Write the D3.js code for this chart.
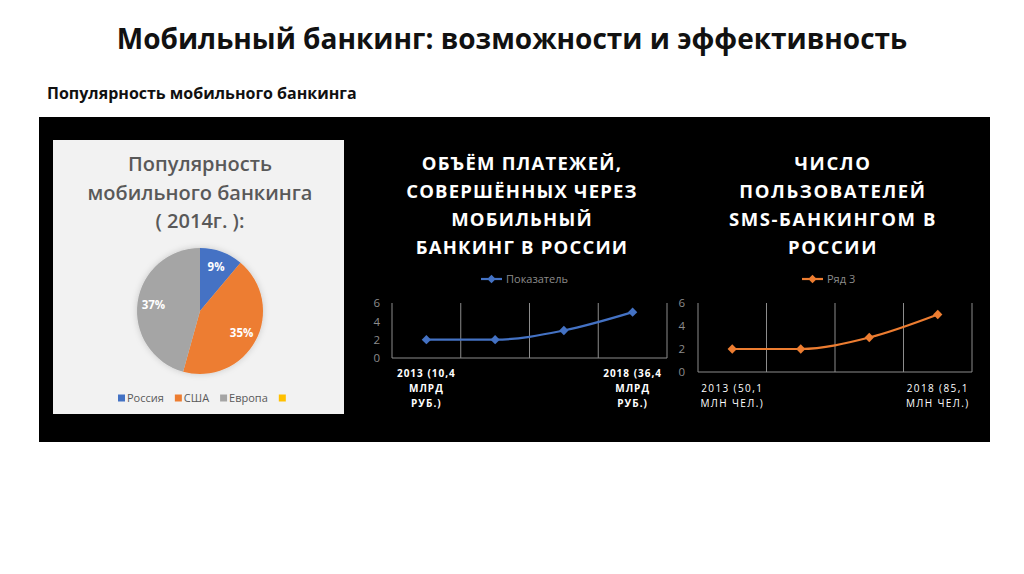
<!DOCTYPE html>
<html>
<head>
<meta charset="utf-8">
<script src="https://cdn.jsdelivr.net/npm/d3@7"></script>
<style>
  body { margin: 0; background: #fff; }
  svg { display: block; }
</style>
</head>
<body>
<div id="chart"></div>
<script>
// Pie: popularity of mobile banking (2014)
const pieCategories = ["Россия", "США", "Европа", ""];
const pieValues = [9, 35, 37, 0];
const pieColors = ["#4472c4", "#ed7d31", "#a5a5a5", "#ffc000"];

// Line 1: payments volume
const paymentsValues = [2, 2, 3, 5];
const paymentsLabels = [["2013 (10,4", "МЛРД", "РУБ.)"], [], [], ["2018  (36,4", "МЛРД", "РУБ.)"]];

// Line 2: SMS-banking users
const smsValues = [2, 2, 3, 5];
const smsLabels = [["2013 (50,1", "МЛН ЧЕЛ.)"], [], [], ["2018 (85,1", "МЛН ЧЕЛ.)"]];

const yTicks = [0, 2, 4, 6];

const font = "'Open Sans', 'Noto Sans', sans-serif";
const W = 1024, H = 574;

const svg = d3.select("#chart").append("svg")
  .attr("width", W)
  .attr("height", H)
  .style("font-family", font);

// Slide title
svg.append("text")
  .attr("x", 512).attr("y", 49)
  .attr("text-anchor", "middle")
  .attr("font-size", 28).attr("font-weight", 700)
  .attr("fill", "#111")
  .text("Мобильный банкинг: возможности и эффективность");

svg.append("text")
  .attr("x", 47).attr("y", 99)
  .attr("font-size", 16).attr("font-weight", 700)
  .attr("fill", "#111")
  .text("Популярность мобильного банкинга");

// Black panel
svg.append("rect")
  .attr("x", 39).attr("y", 117)
  .attr("width", 951).attr("height", 325)
  .attr("fill", "#000");

// ---- Pie panel ----
svg.append("rect")
  .attr("x", 53).attr("y", 140)
  .attr("width", 291).attr("height", 274)
  .attr("fill", "#f2f2f2");

const pieTitle = ["Популярность", "мобильного банкинга", "( 2014г. ):"];
svg.append("g").selectAll("text")
  .data(pieTitle)
  .join("text")
  .attr("x", 200)
  .attr("y", (d, i) => [171, 200, 228][i])
  .attr("text-anchor", "middle")
  .attr("font-size", 20).attr("font-weight", 600)
  .attr("fill", "#595959")
  .text(d => d);

const defs = svg.append("defs");
const shadow = defs.append("filter").attr("id", "pieShadow")
  .attr("x", "-30%").attr("y", "-30%").attr("width", "160%").attr("height", "160%");
shadow.append("feDropShadow")
  .attr("dx", 0).attr("dy", 0).attr("stdDeviation", 3)
  .attr("flood-color", "#000").attr("flood-opacity", 0.18);

const pie = d3.pie().sort(null).value(d => d);
const arcs = pie(pieValues);
const radius = 63;
const arc = d3.arc().innerRadius(0).outerRadius(radius);
const labelArc = d3.arc().innerRadius(47).outerRadius(47);

const pieG = svg.append("g").attr("transform", "translate(200,311)");
pieG.append("g").attr("filter", "url(#pieShadow)")
  .selectAll("path")
  .data(arcs)
  .join("path")
  .attr("d", arc)
  .attr("fill", (d, i) => pieColors[i]);

pieG.selectAll("text.lbl")
  .data(arcs.filter(d => d.value > 0))
  .join("text")
  .attr("class", "lbl")
  .attr("transform", d => `translate(${labelArc.centroid(d)})`)
  .attr("text-anchor", "middle")
  .attr("dy", "0.35em")
  .attr("font-size", 11.5).attr("font-weight", 700)
  .attr("fill", "#fff")
  .text(d => d.value + "%");

// Pie legend
const legG = svg.append("g");
let lx = 0;
const items = legG.selectAll("g")
  .data(pieCategories)
  .join("g");
items.append("rect")
  .attr("y", -3.5).attr("width", 7).attr("height", 7)
  .attr("fill", (d, i) => pieColors[i]);
items.append("text")
  .attr("x", 9).attr("dy", "0.35em")
  .attr("font-size", 11)
  .attr("fill", "#595959")
  .text(d => d);
items.each(function () {
  const g = d3.select(this);
  g.attr("transform", `translate(${lx},0)`);
  const tw = g.select("text").node().getComputedTextLength();
  lx += 9 + tw + (tw > 0 ? 11 : 0);
});
legG.attr("transform", "translate(118,398)");

// ---- Line charts ----
function lineChart(o) {
  const g = svg.append("g");

  g.selectAll("text.title")
    .data(o.title)
    .join("text")
    .attr("class", "title")
    .attr("x", o.titleX)
    .attr("y", (d, i) => 170 + i * 28)
    .attr("text-anchor", "middle")
    .attr("font-size", 18.5).attr("font-weight", 700)
    .attr("letter-spacing", o.titleSpacing)
    .attr("fill", "#fff")
    .text(d => d);

  const x = d3.scaleBand()
    .domain(d3.range(o.values.length))
    .range([o.x0, o.x1]);
  const y = d3.scaleLinear().domain([0, 6]).range([o.y0, o.y1]);

  // vertical gridlines at category edges
  const edges = x.domain().map(d => x(d)).concat([o.x1]);
  g.selectAll("line.grid")
    .data(edges)
    .join("line")
    .attr("class", "grid")
    .attr("x1", d => d).attr("x2", d => d)
    .attr("y1", y(6)).attr("y2", y(0))
    .attr("stroke", "#8c8c8c").attr("stroke-width", 1);
  g.append("line")
    .attr("x1", o.x0).attr("x2", o.x1)
    .attr("y1", y(0)).attr("y2", y(0))
    .attr("stroke", "#8c8c8c").attr("stroke-width", 1);

  const yAxis = g.append("g")
    .attr("transform", `translate(${o.x0},0)`)
    .call(d3.axisLeft(y).tickValues(yTicks).tickFormat(d3.format("d"))
      .tickSize(0).tickPadding(o.tickPad));
  yAxis.select(".domain").remove();
  yAxis.selectAll("text")
    .attr("fill", "#8c8c8c")
    .attr("font-size", 11.5)
    .attr("font-family", font);

  const cx = i => x(i) + x.bandwidth() / 2;
  const line = d3.line()
    .x((d, i) => cx(i))
    .y(d => y(d))
    .curve(d3.curveMonotoneX);
  g.append("path")
    .datum(o.values)
    .attr("fill", "none")
    .attr("stroke", o.color)
    .attr("stroke-width", 2.2)
    .attr("d", line);

  const diamond = d3.symbol().type(d3.symbolDiamond2).size(55);
  g.selectAll("path.pt")
    .data(o.values)
    .join("path")
    .attr("class", "pt")
    .attr("transform", (d, i) => `translate(${cx(i)},${y(d)})`)
    .attr("d", diamond)
    .attr("fill", o.color);

  // category labels
  o.labels.forEach((lines, i) => {
    g.append("g").selectAll("text")
      .data(lines)
      .join("text")
      .attr("x", cx(i))
      .attr("y", (d, j) => o.labelY + j * o.labelStep)
      .attr("text-anchor", "middle")
      .attr("font-size", 10)
      .attr("font-weight", o.labelBold ? 700 : 400)
      .attr("letter-spacing", o.labelSpacing)
      .attr("fill", "#fff")
      .text(d => d);
  });

  // legend
  const lg = g.append("g").attr("transform", `translate(${o.legendX},279)`);
  lg.append("line")
    .attr("x1", 0).attr("x2", 21)
    .attr("stroke", o.color).attr("stroke-width", 2.2);
  lg.append("path")
    .attr("transform", "translate(10.5,0)")
    .attr("d", d3.symbol().type(d3.symbolDiamond2).size(45))
    .attr("fill", o.color);
  lg.append("text")
    .attr("x", 25).attr("dy", "0.35em")
    .attr("font-size", 11)
    .attr("fill", "#8c8c8c")
    .text(o.legend);
}

lineChart({
  title: ["ОБЪЁМ ПЛАТЕЖЕЙ,", "СОВЕРШЁННЫХ ЧЕРЕЗ", "МОБИЛЬНЫЙ", "БАНКИНГ В РОССИИ"],
  titleX: 522, titleSpacing: 1.2,
  values: paymentsValues,
  labels: paymentsLabels,
  color: "#4472c4",
  legend: "Показатель",
  legendX: 481,
  x0: 392, x1: 667, y0: 358, y1: 303,
  tickPad: 12,
  labelY: 377, labelStep: 15, labelBold: true, labelSpacing: 1.0
});

lineChart({
  title: ["ЧИСЛО", "ПОЛЬЗОВАТЕЛЕЙ", "SMS-БАНКИНГОМ В", "РОССИИ"],
  titleX: 833, titleSpacing: 1.6,
  values: smsValues,
  labels: smsLabels,
  color: "#ed7d31",
  legend: "Ряд 3",
  legendX: 802,
  x0: 698, x1: 972, y0: 372, y1: 303,
  tickPad: 13,
  labelY: 392, labelStep: 14.5, labelBold: false, labelSpacing: 1.4
});
</script>
</body>
</html>
